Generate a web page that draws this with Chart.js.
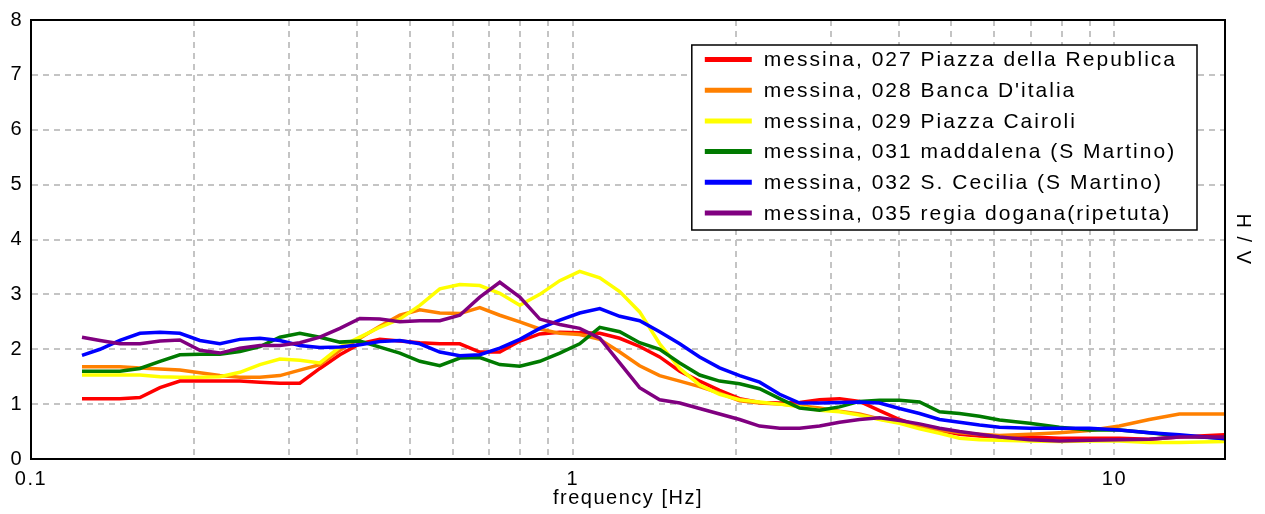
<!DOCTYPE html>
<html>
<head>
<meta charset="utf-8">
<script src="https://cdn.jsdelivr.net/npm/chart.js@4.4.1/dist/chart.umd.min.js"></script>
<style>
html,body{margin:0;padding:0;background:#fff;}
#c{display:block;}
</style>
</head>
<body>
<canvas id="c" width="1265" height="514"></canvas>
<script>
// Frequencies (Hz) shared by all curves
const freq = [0.1242,0.1341,0.1459,0.1589,0.1730,0.1883,0.2050,0.2232,0.2430,0.2646,0.2880,0.3135,0.3414,0.3717,0.4046,0.4405,0.4796,0.5221,0.5684,0.6188,0.6737,0.7335,0.7986,0.8694,0.9465,1.030,1.122,1.221,1.329,1.447,1.576,1.715,1.867,2.033,2.213,2.410,2.623,2.856,3.109,3.385,3.685,4.012,4.368,4.755,5.176,5.636,6.135,6.97,7.91,8.99,10.21,11.60,13.18,15.96];

const seriesLabels = [
  "messina, 027 Piazza della Republica",
  "messina, 028 Banca D'italia",
  "messina, 029 Piazza Cairoli",
  "messina, 031 maddalena (S Martino)",
  "messina, 032 S. Cecilia (S Martino)",
  "messina, 035 regia dogana(ripetuta)"
];

const s027 = [1.1,1.1,1.1,1.12,1.3,1.42,1.42,1.42,1.42,1.40,1.38,1.38,1.65,1.9,2.1,2.18,2.15,2.12,2.1,2.1,1.95,1.95,2.15,2.28,2.31,2.3,2.29,2.2,2.05,1.86,1.6,1.42,1.25,1.1,1.03,1.02,1.03,1.08,1.1,1.05,0.88,0.72,0.6,0.52,0.45,0.42,0.4,0.4,0.38,0.38,0.38,0.36,0.4,0.44];
const s028 = [1.68,1.68,1.68,1.66,1.64,1.62,1.57,1.52,1.49,1.49,1.52,1.62,1.72,1.98,2.2,2.42,2.62,2.72,2.66,2.65,2.76,2.62,2.5,2.37,2.29,2.27,2.18,1.95,1.7,1.52,1.42,1.32,1.2,1.06,1.02,1.0,0.97,0.93,0.87,0.82,0.73,0.67,0.61,0.53,0.48,0.45,0.43,0.45,0.48,0.52,0.6,0.72,0.82,0.82];
const s029 = [1.53,1.53,1.53,1.53,1.5,1.49,1.49,1.5,1.58,1.72,1.82,1.8,1.75,2.04,2.22,2.4,2.55,2.8,3.1,3.18,3.16,3.02,2.8,3.0,3.25,3.42,3.3,3.05,2.68,2.1,1.65,1.35,1.18,1.08,1.04,1.0,0.95,0.89,0.86,0.8,0.72,0.65,0.55,0.47,0.38,0.35,0.34,0.33,0.32,0.33,0.33,0.3,0.3,0.32];
const s031 = [1.6,1.6,1.6,1.65,1.78,1.9,1.91,1.91,1.96,2.05,2.22,2.29,2.22,2.13,2.15,2.04,1.93,1.78,1.7,1.84,1.85,1.72,1.69,1.78,1.93,2.1,2.4,2.32,2.12,2.0,1.75,1.53,1.42,1.37,1.28,1.1,0.93,0.89,0.95,1.05,1.07,1.07,1.04,0.86,0.83,0.78,0.71,0.65,0.58,0.53,0.53,0.48,0.42,0.38];
const s032 = [1.89,2.0,2.16,2.29,2.31,2.29,2.16,2.1,2.18,2.2,2.16,2.07,2.03,2.04,2.08,2.14,2.16,2.1,1.95,1.88,1.9,2.02,2.18,2.38,2.53,2.66,2.74,2.6,2.52,2.32,2.1,1.86,1.66,1.52,1.4,1.18,1.02,1.02,1.03,1.04,1.02,0.92,0.83,0.72,0.67,0.62,0.58,0.56,0.56,0.56,0.53,0.48,0.44,0.37];
const s035 = [2.22,2.16,2.1,2.1,2.15,2.17,1.98,1.93,2.02,2.07,2.07,2.12,2.22,2.38,2.56,2.55,2.5,2.52,2.52,2.62,2.95,3.22,2.95,2.55,2.45,2.38,2.2,1.75,1.3,1.08,1.02,0.92,0.82,0.72,0.6,0.56,0.56,0.6,0.67,0.72,0.75,0.7,0.64,0.56,0.5,0.45,0.4,0.35,0.33,0.34,0.35,0.36,0.4,0.4];

const seriesValues = [s027, s028, s029, s031, s032, s035];
const seriesColors = ["#ff0000", "#ff8000", "#ffff00", "#007a00", "#0000ff", "#800080"];

const xGridTicks = [0.1,0.2,0.3,0.4,0.5,0.6,0.7,0.8,0.9,1,2,3,4,5,6,7,8,9,10];
const xTickLabels = [0.1, 1, 10];
const yTicks = [0,1,2,3,4,5,6,7,8];

const FONT = "'Liberation Sans', Arial, sans-serif";

const datasets = seriesLabels.map((lab, i) => ({
  label: lab,
  data: seriesValues[i].map((v, j) => ({x: freq[j], y: v})),
  borderColor: seriesColors[i],
  backgroundColor: seriesColors[i],
  borderWidth: 3.5,
  pointRadius: 0,
  tension: 0,
  fill: false,
  order: seriesLabels.length - i
}));

const spacingPlugin = {
  id: 'spacing',
  beforeDraw(chart) { chart.ctx.letterSpacing = '1.5px'; }
};

const framePlugin = {
  id: 'frame',
  afterDatasetsDraw(chart) {
    const {ctx, chartArea: a} = chart;
    ctx.save();
    ctx.setLineDash([]);
    ctx.strokeStyle = '#000';
    ctx.lineWidth = 2;
    ctx.strokeRect(a.left, a.top, a.right - a.left, a.bottom - a.top);
    ctx.restore();
  }
};

const legendPlugin = {
  id: 'boxLegend',
  afterDraw(chart) {
    const {ctx, chartArea: a} = chart;
    ctx.save();
    ctx.setLineDash([]);
    ctx.letterSpacing = '2px';
    ctx.font = "21px " + FONT;
    let tw = 0;
    chart.data.datasets.forEach(d => { tw = Math.max(tw, ctx.measureText(d.label).width); });
    const rowH = 30.7;
    const padL = 13, lineW = 47, gap = 12, padR = 20;
    const w = padL + lineW + gap + tw + padR;
    const right = a.right - 28;
    const left = right - w;
    const top = a.top + 25;
    const h = 14.5 + rowH * (chart.data.datasets.length - 1) + 17;
    ctx.fillStyle = '#fff';
    ctx.fillRect(left, top, w, h);
    ctx.strokeStyle = '#000';
    ctx.lineWidth = 1.5;
    ctx.strokeRect(left, top, w, h);
    chart.data.datasets.forEach((d, i) => {
      const cy = top + 14.5 + i * rowH;
      ctx.strokeStyle = d.borderColor;
      ctx.lineWidth = 5;
      ctx.beginPath();
      ctx.moveTo(left + padL, cy);
      ctx.lineTo(left + padL + lineW, cy);
      ctx.stroke();
      ctx.fillStyle = '#000';
      ctx.textBaseline = 'middle';
      ctx.textAlign = 'left';
      ctx.fillText(d.label, left + padL + lineW + gap, cy + 1);
    });
    ctx.restore();
  }
};

new Chart(document.getElementById('c'), {
  type: 'line',
  data: { datasets },
  plugins: [spacingPlugin, framePlugin, legendPlugin],
  options: {
    responsive: false,
    animation: false,
    devicePixelRatio: 1,
    layout: { padding: { top: 19, left: 0, right: 0, bottom: 0 } },
    plugins: { legend: { display: false }, tooltip: { enabled: false } },
    scales: {
      x: {
        type: 'logarithmic',
        position: 'bottom',
        min: 0.1,
        max: 16,
        afterBuildTicks(scale) { scale.ticks = xGridTicks.map(v => ({value: v})); },
        afterFit(scale) { scale.height = 55; },
        ticks: {
          autoSkip: false,
          maxRotation: 0,
          padding: 8,
          color: '#000',
          font: { family: FONT, size: 20 },
          callback(value) { return xTickLabels.includes(value) ? String(value) : ''; }
        },
        grid: { color: '#c4c4c4', lineWidth: 2, drawTicks: false },
        border: { display: true, color: '#000', width: 2, dash: [6, 5] },
        title: { display: true, text: 'frequency [Hz]', color: '#000', font: { family: FONT, size: 20 }, padding: { top: 0, bottom: 4 } }
      },
      y: {
        position: 'left',
        min: 0,
        max: 8,
        afterBuildTicks(scale) { scale.ticks = yTicks.map(v => ({value: v})); },
        afterFit(scale) { scale.width = 31; },
        ticks: { padding: 8, color: '#000', font: { family: FONT, size: 20 } },
        grid: { color: '#c4c4c4', lineWidth: 2, drawTicks: false },
        border: { display: true, color: '#000', width: 2, dash: [6, 5] }
      },
      y2: {
        position: 'right',
        min: 0,
        max: 8,
        afterFit(scale) { scale.width = 40; },
        ticks: { display: false },
        grid: { display: false, drawTicks: false },
        border: { display: false },
        title: { display: true, text: 'H / V', color: '#000', font: { family: FONT, size: 20 }, padding: { top: 10, bottom: 0 } }
      }
    }
  }
});
</script>
</body>
</html>
